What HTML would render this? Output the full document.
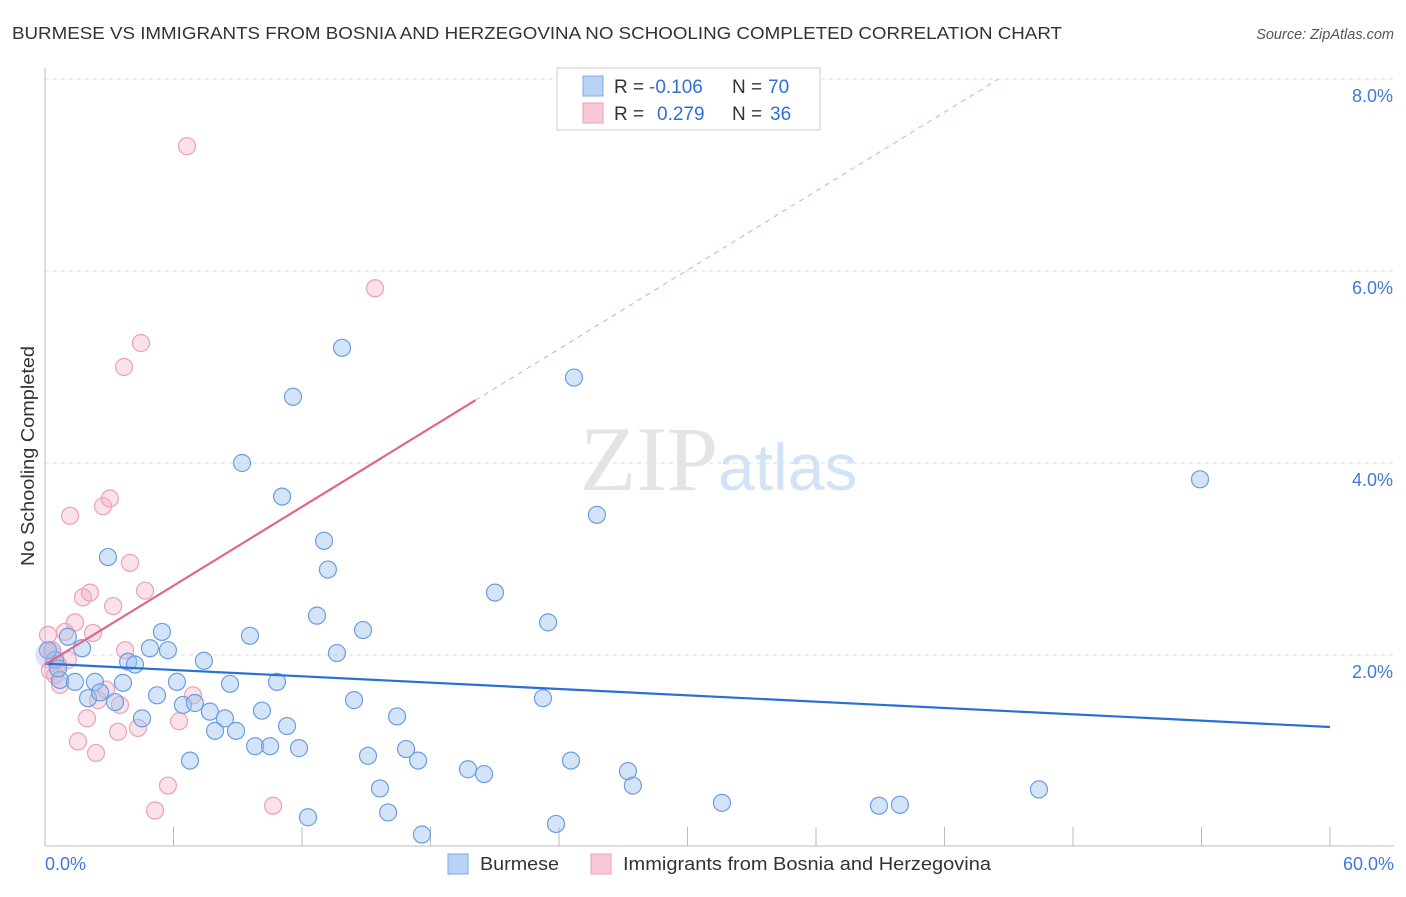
<!DOCTYPE html>
<html><head><meta charset="utf-8"><style>
body{margin:0;background:#fff;font-family:"Liberation Sans",sans-serif;}
svg text{font-family:"Liberation Sans",sans-serif;}
</style></head><body>
<svg id="chart" width="1406" height="892">
<text x="12" y="39" font-size="17.5" fill="#333" textLength="1050" lengthAdjust="spacingAndGlyphs">BURMESE VS IMMIGRANTS FROM BOSNIA AND HERZEGOVINA NO SCHOOLING COMPLETED CORRELATION CHART</text>
<text x="1394" y="39" font-size="14.5" fill="#555" font-style="italic" text-anchor="end">Source: ZipAtlas.com</text>
<text x="34" y="456" font-size="18" fill="#333" text-anchor="middle" textLength="220" lengthAdjust="spacingAndGlyphs" transform="rotate(-90 34 456)">No Schooling Completed</text>
<g id="grid"></g>
<text x="718" y="490" font-size="92" fill="#e4e4e4" text-anchor="end" style="font-family:'Liberation Serif',serif">ZIP</text>
<text x="718" y="490" font-size="66" fill="#d3e3f6">atlas</text>
<g id="pts"></g>
<g id="lines"></g>
<g>
<rect x="557" y="68" width="263" height="62" fill="#fff" stroke="#ccc"/>
<rect x="583" y="76" width="20" height="20" fill="#b8d2f4" stroke="#7fa9e4"/>
<text x="614" y="93" font-size="19" fill="#333">R =</text>
<text x="649" y="93" font-size="19" fill="#2f6fd6">-0.106</text>
<text x="732" y="93" font-size="19" fill="#333">N =</text>
<text x="768" y="93" font-size="19" fill="#2f6fd6">70</text>
<rect x="583" y="103" width="20" height="20" fill="#f8c8d6" stroke="#ec9fb6"/>
<text x="614" y="120" font-size="19" fill="#333">R =</text>
<text x="657" y="120" font-size="19" fill="#2f6fd6">0.279</text>
<text x="732" y="120" font-size="19" fill="#333">N =</text>
<text x="770" y="120" font-size="19" fill="#2f6fd6">36</text>
</g>
<g>
<rect x="448" y="854" width="20" height="20" fill="#b8d2f4" stroke="#7fa9e4"/>
<text x="480" y="870" font-size="18" fill="#333" textLength="79" lengthAdjust="spacingAndGlyphs">Burmese</text>
<rect x="591" y="854" width="20" height="20" fill="#f8c8d6" stroke="#ec9fb6"/>
<text x="623" y="870" font-size="18" fill="#333" textLength="368" lengthAdjust="spacingAndGlyphs">Immigrants from Bosnia and Herzegovina</text>
</g>
</svg>
<script>
const yTicks=[2,4,6,8];
const yTickLabels=["2.0%","4.0%","6.0%","8.0%"];
const xTickVals=[0,6,12,18,24,30,36,42,48,54,60];
const blueX=[1.07,1.73,0.47,0.70,1.40,2.33,2.01,2.57,2.94,3.27,3.64,3.88,4.20,4.53,4.90,5.23,5.46,5.74,6.16,6.44,6.77,7.00,7.42,7.70,7.94,8.40,8.64,8.92,9.20,9.57,9.81,10.13,10.51,10.83,11.07,11.30,11.58,11.86,12.28,12.70,13.03,13.21,13.63,13.87,14.43,14.85,15.08,15.64,16.02,16.44,16.86,17.42,17.60,19.75,20.50,21.01,23.25,23.49,23.86,24.56,24.70,25.77,27.22,27.45,31.61,38.94,39.92,46.41,53.93,0.14,0.61];
const blueY=[2.19,2.07,1.95,1.74,1.72,1.72,1.55,1.61,3.02,1.51,1.71,1.93,1.90,1.34,2.07,1.58,2.24,2.05,1.72,1.48,0.90,1.50,1.94,1.41,1.21,1.34,1.70,1.21,4.00,2.20,1.05,1.42,1.05,1.72,3.65,1.26,4.69,1.03,0.31,2.41,3.19,2.89,2.02,5.20,1.53,2.26,0.95,0.61,0.36,1.36,1.02,0.90,0.13,0.81,0.76,2.65,1.55,2.34,0.24,0.90,4.89,3.46,0.79,0.64,0.46,0.43,0.44,0.60,3.83,2.05,1.86];
const pinkX=[0.14,0.23,0.47,0.70,0.93,1.07,1.17,1.40,1.54,1.77,1.96,2.10,2.24,2.38,2.47,2.71,2.85,3.03,3.18,3.41,3.50,3.69,3.74,3.97,4.34,4.48,4.67,5.14,5.74,6.26,6.63,6.91,10.65,15.41,0.61,0.33];
const pinkY=[2.21,1.84,1.79,1.69,2.24,1.95,3.45,2.34,1.10,2.60,1.34,2.65,2.23,0.98,1.53,3.55,1.64,3.63,2.51,1.20,1.48,5.00,2.05,2.96,1.24,5.25,2.67,0.38,0.64,1.31,7.30,1.58,0.43,5.82,1.90,2.05];
const blueTrend=[1.91,1.25];   // y at x=0 and x=60
const pinkTrend=[1.90,0.137]; // intercept, slope
const ns="http://www.w3.org/2000/svg";
const X=v=>45+v*(1285/60), Y=v=>847-v*96;
function mk(t,a,p){const e=document.createElementNS(ns,t);for(const k in a)e.setAttribute(k,a[k]);p.appendChild(e);return e;}
const grid=document.getElementById('grid');
yTicks.forEach((t,i)=>{
 const l=mk('line',{x1:45,x2:1394,y1:Y(t),y2:Y(t),stroke:'#ddd','stroke-dasharray':'4,4'},grid);
 
 
 const tx=mk('text',{x:1393,y:Y(t)+23,'font-size':18,fill:'#3f7ad8','text-anchor':'end'},grid);tx.textContent=yTickLabels[i];
 
 
});
const ax=mk('line',{x1:45,x2:45,y1:68,y2:846,stroke:'#bbb'},grid);


const bx=mk('line',{x1:45,x2:1394,y1:846,y2:846,stroke:'#bbb'},grid);


xTickVals.forEach(v=>{const t=mk('line',{x1:X(v),x2:X(v),y1:827,y2:846,stroke:'#bbb'},grid);
 
 });
const xl=mk('text',{x:45,y:870,'font-size':18,fill:'#3f7ad8'},grid);xl.textContent='0.0%';


const xr=mk('text',{x:1394,y:870,'font-size':18,fill:'#3f7ad8','text-anchor':'end'},grid);xr.textContent='60.0%';


const pts=document.getElementById('pts');
pinkX.forEach((x,i)=>{const c=mk('circle',{cx:X(x),cy:Y(pinkY[i]),r:8.5,fill:'rgba(244,170,192,0.35)',stroke:'#eda0b8','stroke-width':1.2},pts);
 
 });
blueX.forEach((x,i)=>{const c=mk('circle',{cx:X(x),cy:Y(blueY[i]),r:8.5,fill:'rgba(160,196,240,0.45)',stroke:'#6b9de0','stroke-width':1.2},pts);
 
 });
const big=mk('circle',{cx:X(0.2),cy:Y(2.0),r:14,fill:'rgba(170,170,220,0.35)',stroke:'none'},pts);


const lines=document.getElementById('lines');
const bl=mk('line',{x1:X(0),y1:Y(blueTrend[0]),x2:X(60),y2:Y(blueTrend[1]),stroke:'#2a6fd6','stroke-width':2.2},lines);


const pe=(8-pinkTrend[0])/pinkTrend[1];
const pd=mk('line',{x1:X(20.1),y1:Y(pinkTrend[0]+pinkTrend[1]*20.1),x2:X(pe),y2:Y(8),stroke:'#eba0b8','stroke-width':1,'stroke-dasharray':'5,5'},lines);


const pl=mk('line',{x1:X(0),y1:Y(pinkTrend[0]),x2:X(20.1),y2:Y(pinkTrend[0]+pinkTrend[1]*20.1),stroke:'#e4638e','stroke-width':2.2},lines);


</script>
</body></html>
